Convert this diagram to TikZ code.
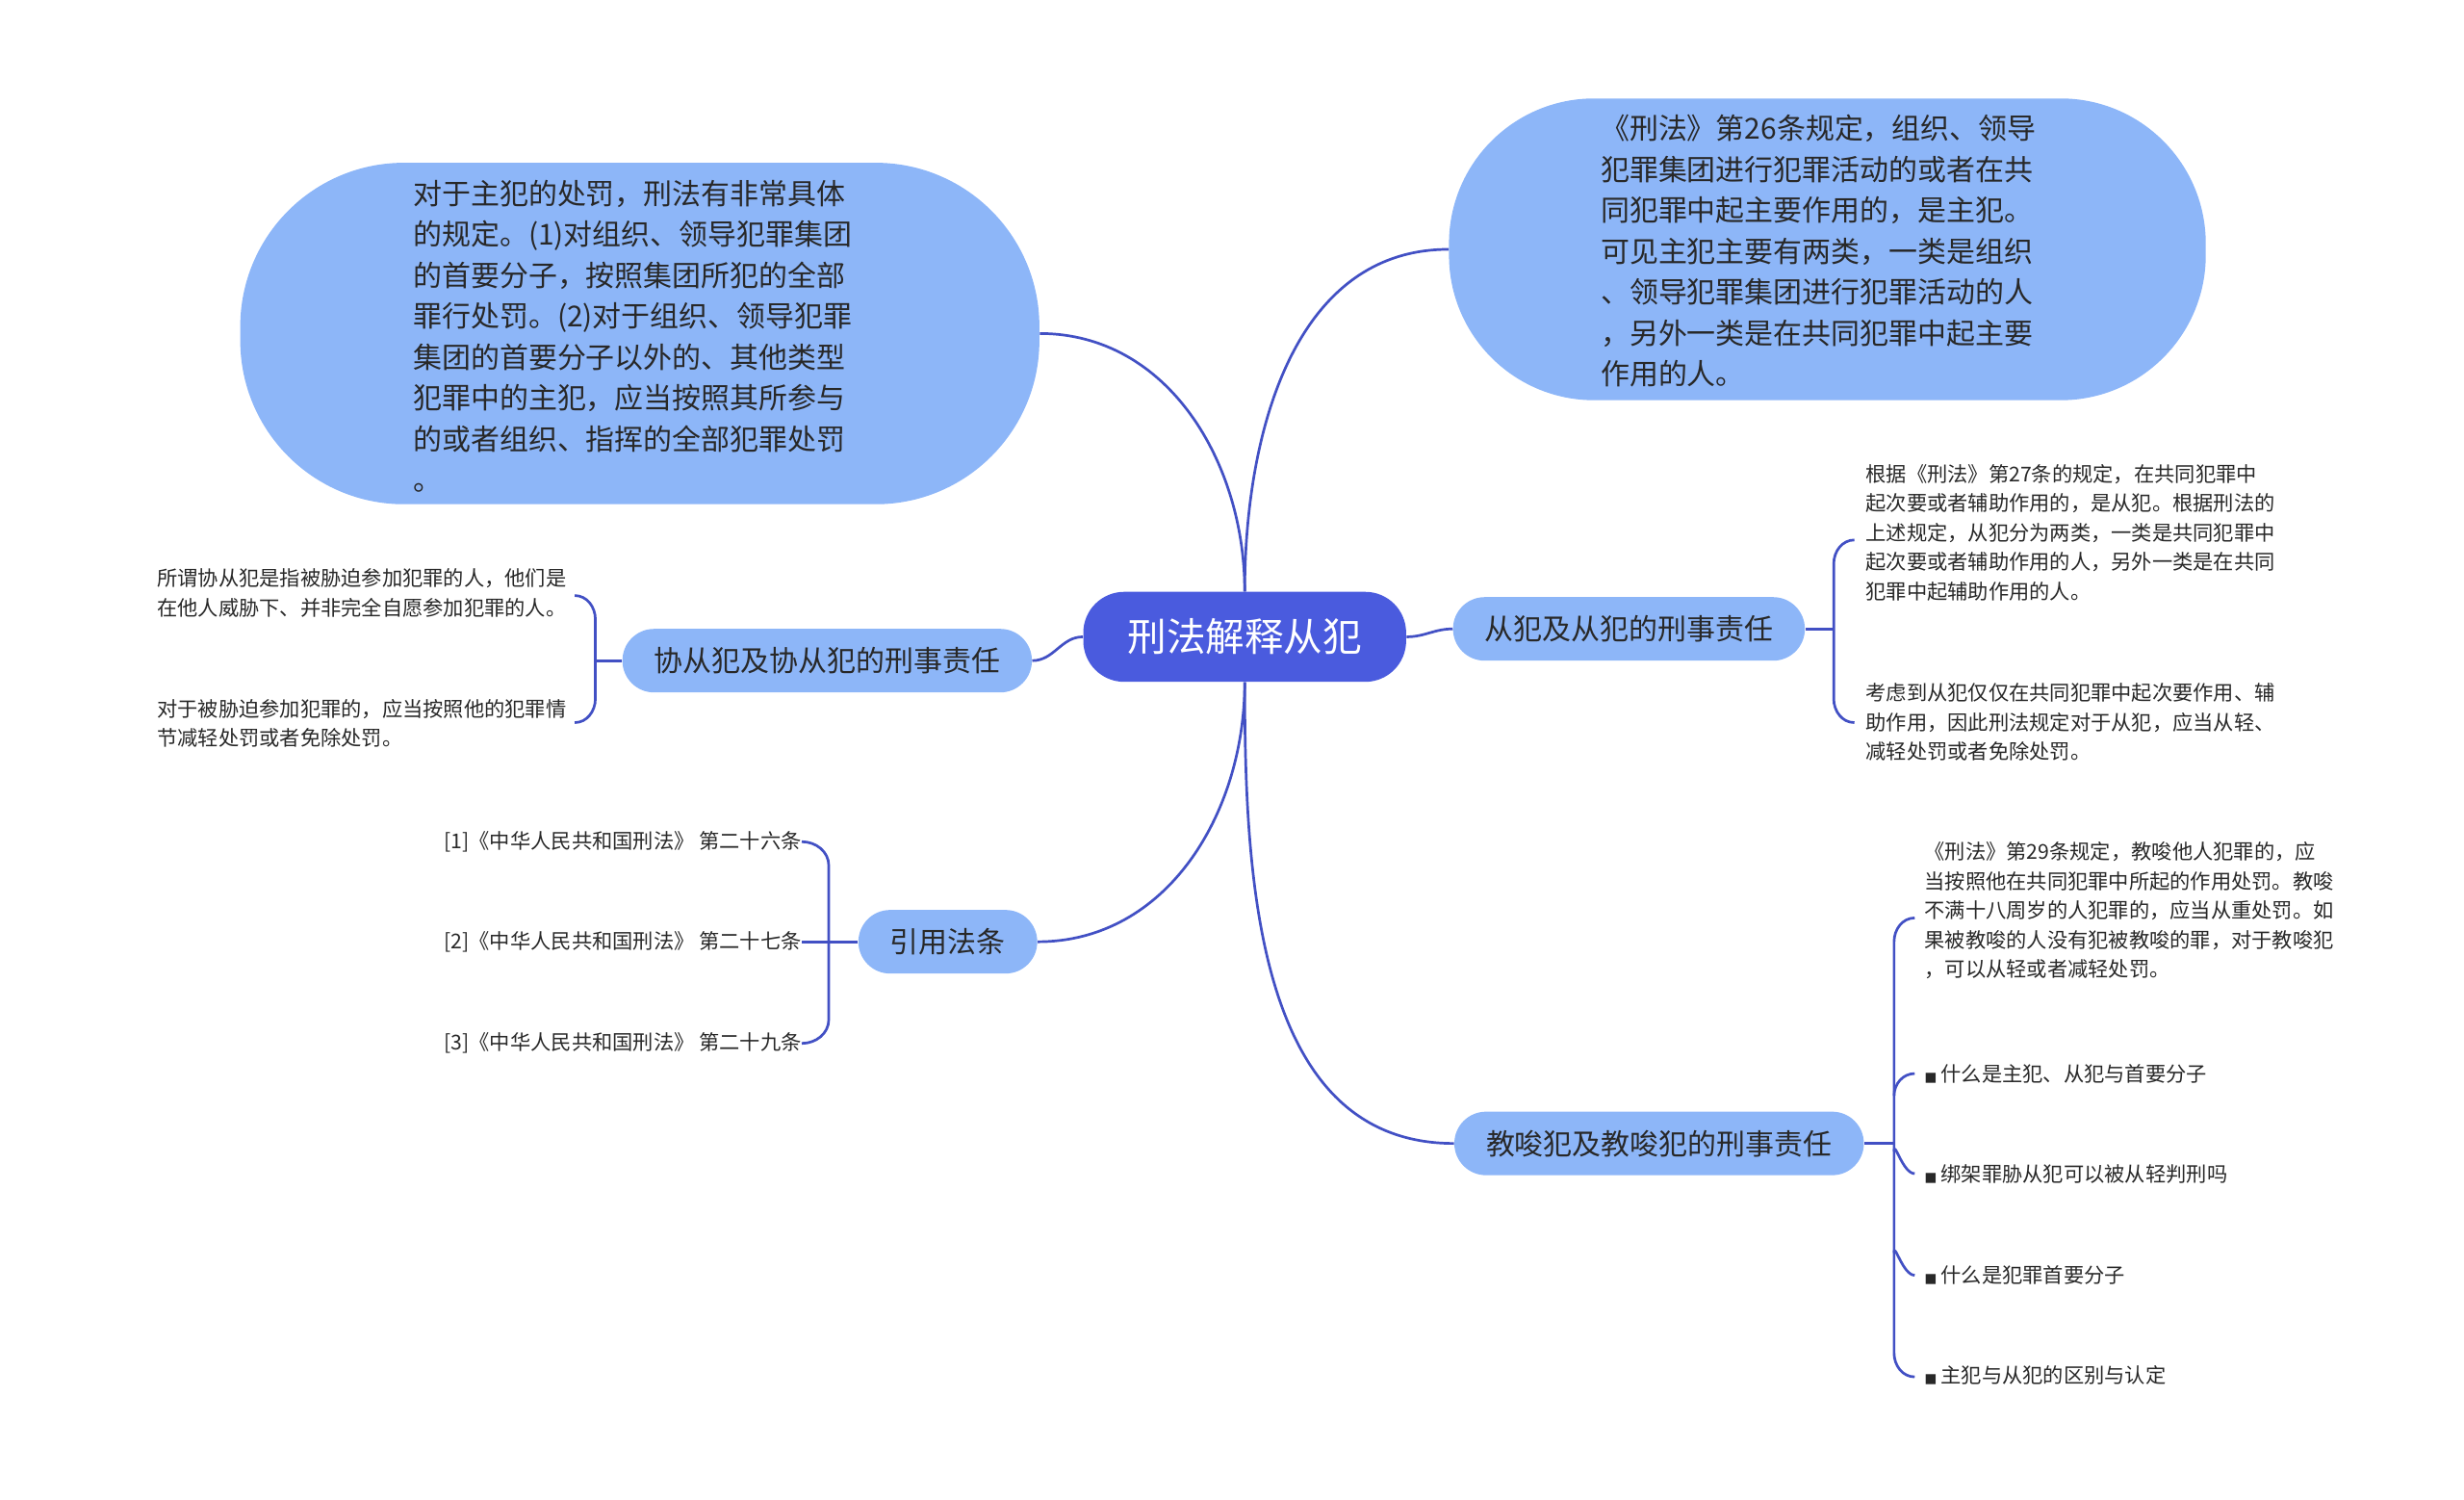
\documentclass[tikz,border=0pt]{standalone}
\usepackage{fontspec}
\setmainfont{Noto Sans CJK SC}
\definecolor{bubble}{RGB}{141,182,248}
\definecolor{rootc}{RGB}{74,91,222}
\definecolor{linec}{RGB}{66,80,196}
\definecolor{txt}{RGB}{40,40,40}
\tikzset{
  big/.style={fill=bubble, inner sep=0pt, font=\fontsize{15.5}{20.8}\selectfont, text=txt, align=left},
  mid/.style={fill=bubble, rounded corners=17, minimum height=1.2cm, inner xsep=0.6cm, font=\fontsize{15.5}{18}\selectfont, text=txt},
  leaf/.style={font=\fontsize{11}{15.8}\selectfont, text=txt, inner sep=0pt},
  link/.style={draw=linec, line width=1.4pt}
}
\begin{document}
\begin{tikzpicture}[x=0.03cm, y=-0.03cm]
\useasboundingbox (0,0) rectangle (1552,944);
% root
\node[fill=rootc, rounded corners=22, minimum width=6.1cm, minimum height=1.7cm, text=white, font=\fontsize{21}{24}\selectfont] (root) at (784,401) {刑法解释从犯};
% big bubbles
\node[big, rounded corners=88, minimum width=15.1cm, minimum height=6.45cm] (zf) at (403,210) {};
\node[leaf, font=\fontsize{15.5}{22}\selectfont, align=left, anchor=north west] (zft) at (260,113) {对于主犯的处罚，刑法有非常具体\\的规定。(1)对组织、领导犯罪集团\\的首要分子，按照集团所犯的全部\\罪行处罚。(2)对于组织、领导犯罪\\集团的首要分子以外的、其他类型\\犯罪中的主犯，应当按照其所参与\\的或者组织、指挥的全部犯罪处罚\\。};
\node[big, rounded corners=78, minimum width=14.3cm, minimum height=5.7cm] (zd) at (1151,157) {};
\node[leaf, font=\fontsize{15.5}{22}\selectfont, align=left, anchor=north west] (zdt) at (1008,72) {《刑法》第26条规定，组织、领导\\犯罪集团进行犯罪活动的或者在共\\同犯罪中起主要作用的，是主犯。\\可见主犯主要有两类，一类是组织\\、领导犯罪集团进行犯罪活动的人\\，另外一类是在共同犯罪中起主要\\作用的人。};
% mid nodes
\node[mid] (xc) at (521,416) {协从犯及协从犯的刑事责任};
\node[mid] (yf) at (597,593) {引用法条};
\node[mid] (cf) at (1026,396) {从犯及从犯的刑事责任};
\node[mid] (js) at (1045,720) {教唆犯及教唆犯的刑事责任};
% root links
\draw[link] (root.north) to[out=90,in=0] (zf.east);
\draw[link] (root.north) to[out=90,in=180] (zd.west);
\draw[link] (root.west) to[out=180,in=0] (xc.east);
\draw[link] (root.south) to[out=-90,in=0] (yf.east);
\draw[link] (root.east) to[out=0,in=180] (cf.west);
\draw[link] (root.south) to[out=-90,in=180] (js.west);
% 协从犯
\node[leaf, align=left, anchor=north east] (xc1) at (357,358) {所谓协从犯是指被胁迫参加犯罪的人，他们是\\在他人威胁下、并非完全自愿参加犯罪的人。};
\node[leaf, align=left, anchor=north east] (xc2) at (357,440) {对于被胁迫参加犯罪的，应当按照他的犯罪情\\节减轻处罚或者免除处罚。};
\draw[link] (362,375) to[out=0,in=90] (375,390) -- (375,440) to[out=-90,in=0] (362,455);
\draw[link] (xc.west) -- (375,416);
% 引用法条
\node[leaf, anchor=east] (yf1) at (505,530) {[1]《中华人民共和国刑法》 第二十六条};
\node[leaf, anchor=east] (yf2) at (505,593) {[2]《中华人民共和国刑法》 第二十七条};
\node[leaf, anchor=east] (yf3) at (505,657) {[3]《中华人民共和国刑法》 第二十九条};
\draw[link] (yf1.east) to[out=0,in=90] (522,545) -- (522,642) to[out=-90,in=0] (yf3.east);
\draw[link] (yf.west) -- (yf2.east);
% 从犯
\node[leaf, align=left, anchor=north west] (cf1) at (1175,292) {根据《刑法》第27条的规定，在共同犯罪中\\起次要或者辅助作用的，是从犯。根据刑法的\\上述规定，从犯分为两类，一类是共同犯罪中\\起次要或者辅助作用的人，另外一类是在共同\\犯罪中起辅助作用的人。};
\node[leaf, align=left, anchor=north west] (cf2) at (1175,430) {考虑到从犯仅仅在共同犯罪中起次要作用、辅\\助作用，因此刑法规定对于从犯，应当从轻、\\减轻处罚或者免除处罚。};
\draw[link] (1168,340) to[out=180,in=90] (1155,355) -- (1155,440) to[out=-90,in=180] (1168,455);
\draw[link] (cf.east) -- (1155,396);
% 教唆犯
\node[leaf, align=left, anchor=north west] (js1) at (1212,530) {《刑法》第29条规定，教唆他人犯罪的，应\\当按照他在共同犯罪中所起的作用处罚。教唆\\不满十八周岁的人犯罪的，应当从重处罚。如\\果被教唆的人没有犯被教唆的罪，对于教唆犯\\，可以从轻或者减轻处罚。};
\node[leaf, anchor=west] (js2) at (1212,676) {\fontspec{DejaVu Sans}\scriptsize■\ \fontspec{Noto Sans CJK SC}\fontsize{11}{15.8}\selectfont 什么是主犯、从犯与首要分子};
\node[leaf, anchor=west] (js3) at (1212,739) {\fontspec{DejaVu Sans}\scriptsize■\ \fontspec{Noto Sans CJK SC}\fontsize{11}{15.8}\selectfont 绑架罪胁从犯可以被从轻判刑吗};
\node[leaf, anchor=west] (js4) at (1212,803) {\fontspec{DejaVu Sans}\scriptsize■\ \fontspec{Noto Sans CJK SC}\fontsize{11}{15.8}\selectfont 什么是犯罪首要分子};
\node[leaf, anchor=west] (js5) at (1212,866) {\fontspec{DejaVu Sans}\scriptsize■\ \fontspec{Noto Sans CJK SC}\fontsize{11}{15.8}\selectfont 主犯与从犯的区别与认定};
\draw[link] (1206,578) to[out=180,in=90] (1193,593) -- (1193,852) to[out=-90,in=180] (1206,867);
\draw[link] (1206,676) to[out=180,in=90] (1193,690);
\draw[link] (1206,739) to[out=180,in=90] (1193,725);
\draw[link] (1206,803) to[out=180,in=90] (1193,789);
\draw[link] (js.east) -- (1193,720);
\end{tikzpicture}
\end{document}
